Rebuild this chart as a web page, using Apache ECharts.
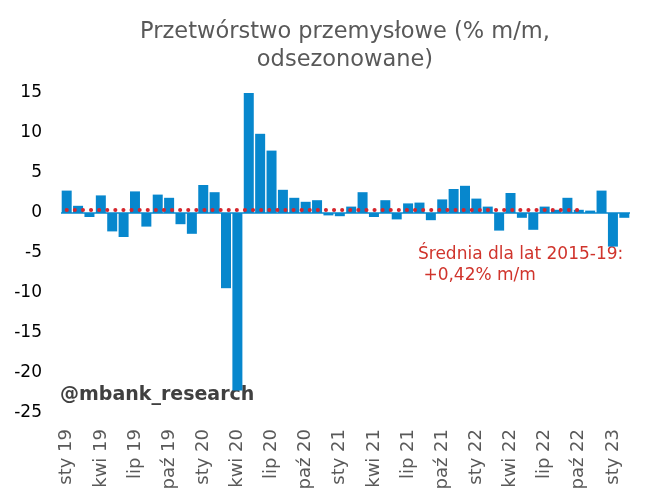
<!DOCTYPE html>
<html>
<head>
<meta charset="utf-8">
<script src="https://cdn.jsdelivr.net/npm/echarts@6/dist/echarts.min.js"></script>
<style>
html,body{margin:0;padding:0;background:#fff;}
#c{width:651px;height:504px;}
</style>
</head>
<body>
<div id="c"></div>
<script>
var months = ['sty','lut','mar','kwi','maj','cze','lip','sie','wrz','paź','lis','gru'];
var years = ['19','20','21','22','23'];
var categories = [];
for (var y = 0; y < years.length; y++) {
  for (var m = 0; m < 12; m++) {
    if (y === 4 && m > 1) break;
    categories.push(months[m] + ' ' + years[y]);
  }
}
var values = [
  2.8, 0.9, -0.5, 2.2, -2.3, -3.0, 2.7, -1.7, 2.3, 1.9, -1.4, -2.6,
  3.5, 2.6, -9.4, -22.2, 15.0, 9.9, 7.8, 2.9, 1.9, 1.4, 1.6, -0.3,
  -0.4, 0.8, 2.6, -0.5, 1.6, -0.8, 1.2, 1.3, -0.9, 1.7, 3.0, 3.4,
  1.8, 0.8, -2.2, 2.5, -0.6, -2.1, 0.8, 0.4, 1.9, 0.4, 0.3, 2.8,
  -4.2, -0.6
];
var avgValue = 0.42;
var avgStartIndex = 0;
var avgEndIndex = 45;
var yTicks = [-25, -20, -15, -10, -5, 0, 5, 10, 15];
var titleText = 'Przetwórstwo przemysłowe (% m/m,\nodsezonowane)';
var noteText = 'Średnia dla lat 2015-19:\n +0,42% m/m';
var brandText = '@mbank_research';

var chart = echarts.init(document.getElementById('c'), null, {renderer: 'canvas'});
var FONT = '"DejaVu Sans", Verdana, sans-serif';
chart.setOption({
  animation: false,
  backgroundColor: '#ffffff',
  title: {
    text: titleText,
    left: 340, top: 13, textAlign: 'center',
    textStyle: {fontFamily: FONT, fontSize: 22.5, fontWeight: 'normal', color: '#595959', lineHeight: 28, align: 'center'}
  },
  grid: {left: 61, top: 93, width: 569, height: 320, containLabel: false},
  xAxis: {
    type: 'category',
    data: categories,
    axisLine: {show: false, onZero: false},
    axisTick: {show: false},
    axisLabel: {
      interval: 2, rotate: 90, margin: 16,
      fontFamily: FONT, fontSize: 18, color: '#595959'
    },
    splitLine: {show: false}
  },
  yAxis: {
    type: 'value',
    min: yTicks[0], max: yTicks[yTicks.length - 1], interval: 5,
    axisLine: {show: false},
    axisTick: {show: false},
    splitLine: {show: false},
    axisLabel: {margin: 19, fontFamily: FONT, fontSize: 17, color: '#000000'}
  },
  series: [{
    type: 'bar',
    data: values,
    barWidth: 10,
    itemStyle: {color: '#0787cd'},
    markLine: {
      silent: true,
      symbol: 'none',
      label: {show: false},
      data: [
        {yAxis: 0, lineStyle: {color: '#0787cd', width: 1.5, type: 'solid'}},
        [
          {coord: [avgStartIndex, avgValue], lineStyle: {color: '#d5262d', width: 4, type: [0.1, 8], cap: 'round'}},
          {coord: [avgEndIndex, avgValue]}
        ]
      ]
    }
  }],
  graphic: [
    {
      type: 'text', left: 418, top: 244,
      style: {text: noteText, fontFamily: FONT, fontSize: 17, fill: '#d0342c', lineHeight: 21}
    },
    {
      type: 'text', left: 60, top: 386,
      style: {text: brandText, fontFamily: FONT, fontSize: 19, fontWeight: 'bold', fill: '#404040'}
    }
  ]
});
</script>
</body>
</html>
